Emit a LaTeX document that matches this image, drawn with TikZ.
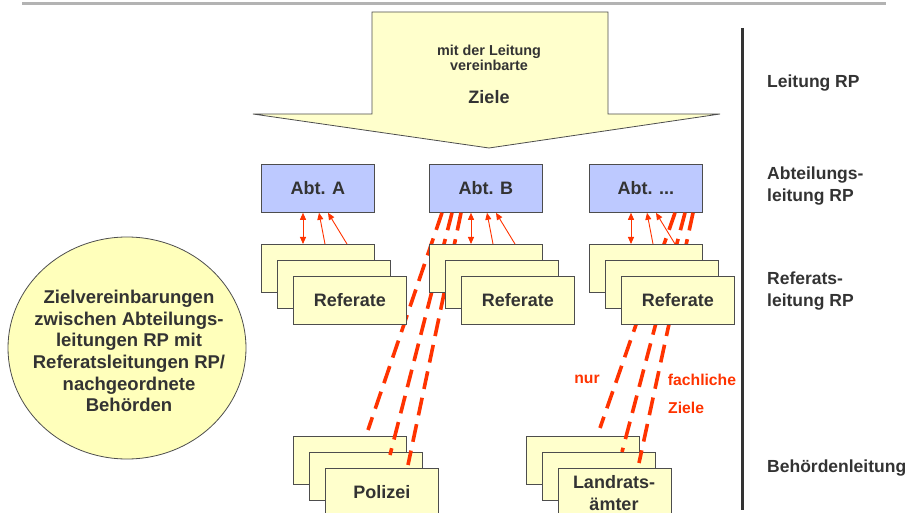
\documentclass[tikz,border=0pt]{standalone}
\usepackage{fontspec}
\setmainfont{Liberation Sans}
\usetikzlibrary{arrows.meta,calc,shapes.geometric}
\definecolor{txt}{HTML}{333333}
\definecolor{bord}{HTML}{4D4D4D}
\definecolor{yel}{HTML}{FFFFCC}
\definecolor{circ}{HTML}{FFFFBB}
\definecolor{blu}{HTML}{BDC9FF}
\definecolor{rd}{HTML}{FF3300}
\definecolor{gry}{HTML}{B3B3B3}
\begin{document}
\begin{tikzpicture}[x=1pt,y=-1pt,
  ybox/.style={draw=bord,fill=yel,line width=0.8pt,minimum width=113pt,minimum height=48pt,
    inner sep=0pt,anchor=north west,font=\bfseries\fontsize{18}{21}\selectfont,text=txt},
  bbox/.style={ybox,fill=blu},
  lbl/.style={font=\bfseries\fontsize{17.5}{21.5}\selectfont,text=txt,align=left,anchor=west,inner sep=0pt},
  rlbl/.style={font=\bfseries\fontsize{15.7}{19}\selectfont,text=rd,inner sep=0pt},
  rdash/.style={draw=rd,line width=3.6pt,dash pattern=on 18pt off 9pt},
  small/.style={draw=rd,line width=0.9pt},
  tip/.tip={Triangle[length=7pt,width=6pt]}]
\useasboundingbox (0,0) rectangle (916,513);
% header line and divider
\draw[gry,line width=3pt] (22,4) -- (886,4);
\draw[txt,line width=3pt] (742,28) -- (742,510);
% big arrow
\draw[draw=bord,fill=yel,line width=0.8pt] (372,12) -- (608,12) -- (608,114) -- (720,114)
  -- (489,148) -- (253,114) -- (372,114) -- cycle;
\node[font=\bfseries\fontsize{14.4}{15}\selectfont,text=txt,align=center,inner sep=0pt] (arrt) at (489,57.5) {mit der Leitung\\vereinbarte};
\node[font=\bfseries\fontsize{18}{21}\selectfont,text=txt,inner sep=0pt] (arrz) at (489,97) {Ziele};
% circle
\draw[draw=bord,fill=circ,line width=0.8pt] (127,348) ellipse [x radius=119, y radius=111];
\node[font=\bfseries\fontsize{18.5}{21.7}\selectfont,text=txt,align=center,inner sep=0pt] (circ) at (129,351)
  {Zielvereinbarungen\\zwischen Abteilungs-\\leitungen RP mit\\Referatsleitungen RP/\\nachgeordnete\\Behörden};
% Abt boxes
\node[bbox] (abtA) at (261,164) {Abt. A};
\node[bbox] (abtB) at (429,164) {Abt. B};
\node[bbox] (abtC) at (589,164) {Abt. ...};
% lower authorities
\node[ybox] (pol1) at (293,436) {};
\node[ybox] (pol2) at (309,452) {};
\node[ybox] (pol3) at (325,468) {Polizei};
\node[ybox] (lan1) at (526,436) {};
\node[ybox] (lan2) at (542,452) {};
\node[ybox] (lan3) at (558,468) {};
\node[font=\bfseries\fontsize{18}{22}\selectfont,text=txt,align=center,inner sep=0pt] (lant) at (614,493) {Landrats-\\ämter};
% dashed lines
\coordinate (pe1) at (368,430);
\coordinate (pe2) at (390,455);
\coordinate (pe3) at (408,465);
\coordinate (le1) at (600,428);
\coordinate (le2) at (622,452);
\coordinate (le3) at (639,463);
\draw[rdash] ([xshift=13pt]abtB.south west) -- (pe1);
\draw[rdash] ([xshift=23pt]abtB.south west) -- (pe2);
\draw[rdash] ([xshift=32pt]abtB.south west) -- (pe3);
\draw[rdash] ([xshift=86pt]abtC.south west) -- (le1);
\draw[rdash] ([xshift=96pt]abtC.south west) -- (le2);
\draw[rdash] ([xshift=104pt]abtC.south west) -- (le3);
% Referate stacks
\node[ybox] (rA1) at (261,244) {};
\node[ybox] (rA2) at (277,260) {};
\node[ybox] (rA3) at (293,276) {Referate};
\node[ybox] (rB1) at (429,244) {};
\node[ybox] (rB2) at (445,260) {};
\node[ybox] (rB3) at (461,276) {Referate};
\node[ybox] (rC1) at (589,244) {};
\node[ybox] (rC2) at (605,260) {};
\node[ybox] (rC3) at (621,276) {Referate};
% small arrows
\foreach \r/\a in {rA1/abtA,rB1/abtB,rC1/abtC}{
  \draw[small,tip-tip] ([xshift=42pt]\r.north west) -- ([xshift=42pt]\a.south west);
  \draw[small,-tip] ([xshift=64pt]\r.north west) -- ([xshift=58pt]\a.south west);
  \draw[small,-tip] ([xshift=86pt]\r.north west) -- ([xshift=67pt]\a.south west);
}
% red labels
\node[rlbl] (nur) at (587,379) {nur};
\node[rlbl] (fach) at (702,380) {fachliche};
\node[rlbl,anchor=west] (zie) at (668,408) {Ziele};
% right labels
\node[lbl] (l1) at (767,83) {Leitung RP};
\node[lbl] (l2) at (767,186) {Abteilungs-\\leitung RP};
\node[lbl] (l3) at (767,291) {Referats-\\leitung RP};
\node[lbl] (l4) at (767,468) {Behördenleitung};
\end{tikzpicture}
\end{document}
